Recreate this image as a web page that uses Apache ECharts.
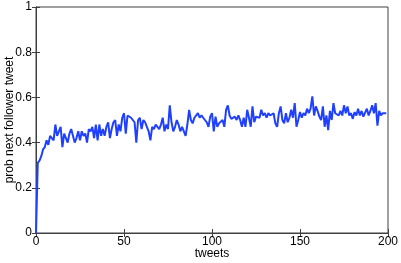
<!DOCTYPE html>
<html><head><meta charset="utf-8">
<script src="https://cdn.jsdelivr.net/npm/echarts@6/dist/echarts.min.js"></script>
<style>html,body{margin:0;padding:0;background:#fff}#c{width:401px;height:263px}</style>
</head><body><div id="c"></div>
<script>
const xTicks = [0, 50, 100, 150, 200];
const yTicks = [0, 0.2, 0.4, 0.6, 0.8, 1];
const probValues = [
0.00,0.31,0.32,0.34,0.37,0.38,0.41,0.39,0.43,0.43,
0.41,0.48,0.43,0.43,0.47,0.38,0.44,0.42,0.40,0.44,
0.46,0.43,0.40,0.42,0.45,0.41,0.45,0.43,0.44,0.40,
0.46,0.45,0.47,0.42,0.48,0.41,0.48,0.43,0.46,0.43,
0.47,0.49,0.42,0.46,0.49,0.50,0.43,0.48,0.45,0.51,
0.53,0.44,0.52,0.515,0.51,0.50,0.49,0.40,0.50,0.51,
0.46,0.50,0.49,0.47,0.45,0.41,0.47,0.46,0.48,0.47,
0.46,0.48,0.51,0.45,0.48,0.46,0.565,0.49,0.45,0.47,
0.50,0.48,0.45,0.47,0.45,0.43,0.48,0.545,0.50,0.485,
0.51,0.51,0.53,0.51,0.52,0.51,0.50,0.49,0.47,0.515,
0.53,0.45,0.515,0.47,0.485,0.49,0.50,0.47,0.545,0.565,
0.52,0.505,0.51,0.515,0.50,0.52,0.50,0.47,0.51,0.47,
0.545,0.51,0.47,0.56,0.49,0.515,0.52,0.51,0.545,0.52,
0.53,0.51,0.53,0.52,0.515,0.53,0.485,0.47,0.53,0.56,
0.50,0.485,0.53,0.49,0.51,0.545,0.51,0.575,0.47,0.50,
0.535,0.51,0.53,0.52,0.55,0.53,0.55,0.605,0.52,0.56,
0.54,0.515,0.50,0.56,0.47,0.52,0.455,0.54,0.50,0.575,
0.53,0.535,0.52,0.54,0.52,0.565,0.53,0.56,0.52,0.53,
0.505,0.535,0.52,0.55,0.52,0.54,0.515,0.51,0.55,0.52,
0.54,0.565,0.53,0.575,0.475,0.54,0.52,0.53,0.535,0.53
];
const tweets = probValues.map((v, i) => i);
const seriesData = tweets.map((t, i) => [t, probValues[i]]);

const font = 'Liberation Sans, Arial, sans-serif';
const axColor = '#404040';
const fs = 12;
const chart = echarts.init(document.getElementById('c'), null, {renderer: 'canvas'});
const tickStyle = {inside: true, length: 4, lineStyle: {color: axColor}};
chart.setOption({
  animation: false,
  grid: {left: 36, right: 13, top: 7, bottom: 30, show: true, borderColor: axColor, borderWidth: 1,
    containLabel: false, outerBoundsMode: 'none'},
  xAxis: [{
    type: 'value', min: xTicks[0], max: xTicks[xTicks.length-1], interval: 50,
    name: 'tweets', nameLocation: 'middle', nameGap: 15, nameMoveOverlap: false,
    nameTextStyle: {fontFamily: font, fontSize: fs, color: '#000'},
    axisLine: {show: true, lineStyle: {color: axColor}},
    axisTick: tickStyle,
    axisLabel: {fontFamily: font, fontSize: fs, color: '#000', margin: 3},
    splitLine: {show: false}
  }, {
    type: 'value', position: 'top', min: 0, max: 200, interval: 50,
    axisLine: {show: true, lineStyle: {color: axColor}},
    axisTick: tickStyle, axisLabel: {show: false}, splitLine: {show: false}
  }],
  yAxis: [{
    type: 'value', min: 0, max: 1, interval: 0.2,
    name: 'prob next follower tweet', nameLocation: 'middle', nameGap: 20, nameMoveOverlap: false,
    nameTextStyle: {fontFamily: font, fontSize: fs, color: '#000'},
    axisLine: {show: true, lineStyle: {color: axColor}},
    axisTick: tickStyle,
    axisLabel: {fontFamily: font, fontSize: fs, color: '#000', margin: 4,
      formatter: v => String(+v.toFixed(1))},
    splitLine: {show: false}
  }, {
    type: 'value', position: 'right', min: 0, max: 1, interval: 0.2,
    axisLine: {show: true, lineStyle: {color: axColor}},
    axisTick: tickStyle, axisLabel: {show: false}, splitLine: {show: false}
  }],
  series: [{
    type: 'line', data: seriesData, showSymbol: false,
    lineStyle: {color: '#2040ff', width: 2}, itemStyle: {color: '#2040ff'}
  }]
});
</script></body></html>
